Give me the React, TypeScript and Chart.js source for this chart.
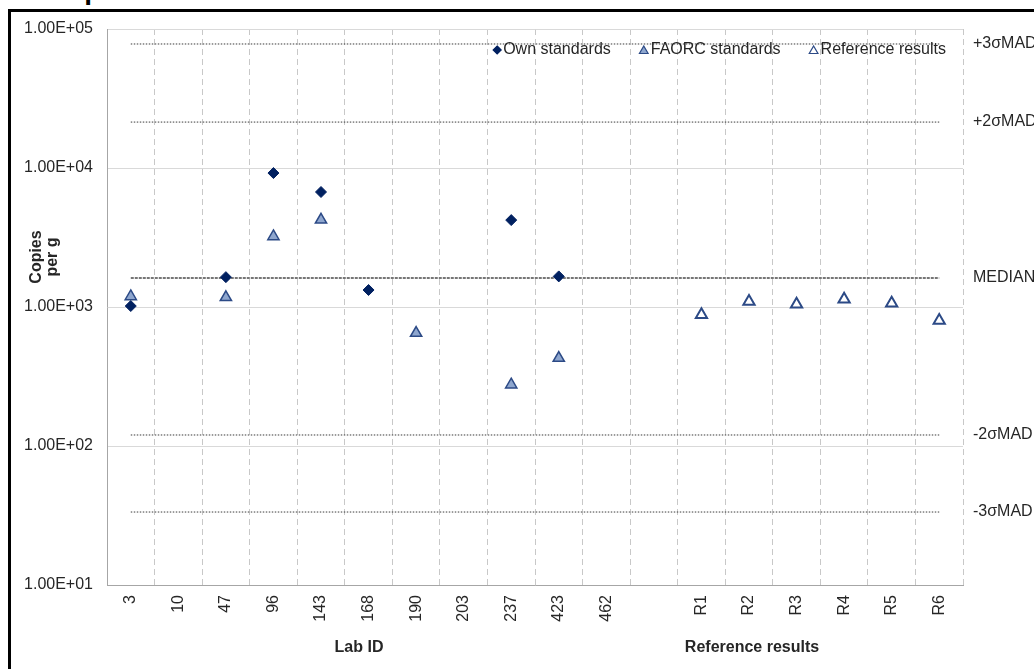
import React, { useEffect, useRef } from 'react';
import { Chart, registerables } from 'chart.js';

Chart.register(...registerables);

// ---------- data ----------
const labIds = ['3', '10', '47', '96', '143', '168', '190', '203', '237', '423', '462', '', 'R1', 'R2', 'R3', 'R4', 'R5', 'R6'];
const ownStandards = [1016, null, 1640, 9200, 6720, 1325, null, null, 4220, 1660, null, null, null, null, null, null, null, null];
const faorcStandards = [1190, null, 1175, 3220, 4240, null, 650, null, 276, 429, null, null, null, null, null, null, null, null];
const referenceResults = [null, null, null, null, null, null, null, null, null, null, null, null, 878, 1095, 1047, 1138, 1065, 800];
const limitNames = ['+3σMAD', '+2σMAD', 'MEDIAN', '-2σMAD', '-3σMAD'];
const limitValues = [78000, 21400, 1620, 120, 33.5];
const yTickValues = [10, 100, 1000, 10000, 100000];
const xAxisTitles = ['Lab ID', 'Reference results'];
const yAxisTitle = ['Copies', 'per g'];
const chartTitle = 'Sample';

const FONT = '"Liberation Sans", Arial, Helvetica, sans-serif';
const TEXT = '#262626';

function fmtExp(v: number): string {
  const e = Math.floor(Math.log10(v) + 1e-9);
  const m = v / Math.pow(10, e);
  return m.toFixed(2) + 'E' + (e >= 0 ? '+' : '-') + String(Math.abs(e)).padStart(2, '0');
}

function drawMarker(ctx: CanvasRenderingContext2D, style: string, cx: number, cy: number, r: number, fill: string, stroke: string, lw: number) {
  ctx.beginPath();
  if (style === 'rectRot') {
    ctx.moveTo(cx, cy - r);
    ctx.lineTo(cx + r, cy);
    ctx.lineTo(cx, cy + r);
    ctx.lineTo(cx - r, cy);
  } else {
    ctx.moveTo(cx, cy - r);
    ctx.lineTo(cx + r * Math.cos(Math.PI / 6), cy + r * 0.5);
    ctx.lineTo(cx - r * Math.cos(Math.PI / 6), cy + r * 0.5);
  }
  ctx.closePath();
  ctx.fillStyle = fill;
  ctx.fill();
  ctx.lineWidth = lw;
  ctx.strokeStyle = stroke;
  ctx.stroke();
}

const annotations = {
  id: 'annotations',
  afterDraw(chart: any) {
    const { ctx, chartArea, scales } = chart;
    const y = scales.y;
    ctx.save();
    // right-hand limit labels
    ctx.font = '16px ' + FONT;
    ctx.fillStyle = TEXT;
    ctx.textAlign = 'left';
    ctx.textBaseline = 'middle';
    limitNames.forEach((n, i) => {
      ctx.fillText(n, chartArea.right + 10, y.getPixelForValue(limitValues[i]));
    });

    // x axis titles
    ctx.font = 'bold 16px ' + FONT;
    ctx.textAlign = 'center';
    ctx.textBaseline = 'middle';
    ctx.fillText(xAxisTitles[0], 359, 648);
    ctx.fillText(xAxisTitles[1], 752, 648);

    // y axis title (two lines, rotated)
    ctx.textBaseline = 'alphabetic';
    yAxisTitle.forEach((t, i) => {
      ctx.save();
      ctx.translate(41 + i * 16, 257);
      ctx.rotate(-Math.PI / 2);
      ctx.fillText(t, 0, 0);
      ctx.restore();
    });

    // legend (inside plot, top right)
    const items = chart.data.datasets.filter((d: any) => d.legend);
    ctx.font = '16px ' + FONT;
    ctx.textAlign = 'left';
    ctx.textBaseline = 'middle';
    const ly = 50;
    let xr = chartArea.right - 17;
    for (let i = items.length - 1; i >= 0; i--) {
      const d = items[i];
      const w = ctx.measureText(d.label).width;
      const tx = xr - w;
      ctx.fillStyle = TEXT;
      ctx.fillText(d.label, tx, ly);
      const mr = d.pointStyle === 'rectRot' ? 4 : 5;
      const mx = tx - 2 - mr;
      drawMarker(ctx, d.pointStyle, mx, ly + (d.pointStyle === 'rectRot' ? 0 : 1), mr, d.pointBackgroundColor, d.pointBorderColor, 1.2);
      xr = mx - mr - 28;
    }
    ctx.restore();
  },
};

export default function App() {
  const ref = useRef<HTMLCanvasElement | null>(null);

  useEffect(() => {
    if (!ref.current) return;
    const limitDatasets = limitNames.map((n, i) => ({
      label: n,
      data: [
        { x: labIds[0], y: limitValues[i] },
        { x: labIds[labIds.length - 1], y: limitValues[i] },
      ],
      borderColor: n === 'MEDIAN' ? '#4a4a4a' : '#3a3a3a',
      borderWidth: n === 'MEDIAN' ? 1.5 : 1,
      borderDash: n === 'MEDIAN' ? [3, 1] : [1.5, 1.5],
      pointRadius: 0,
      showLine: true,
      fill: false,
    }));

    const chart = new Chart(ref.current, {
      type: 'line',
      data: {
        labels: labIds,
        datasets: [
          {
            label: 'Own standards',
            legend: true,
            data: ownStandards,
            showLine: false,
            pointStyle: 'rectRot',
            pointRadius: 5.5,
            pointBackgroundColor: '#002060',
            pointBorderColor: '#002060',
            pointBorderWidth: 1,
          } as any,
          {
            label: 'FAORC standards',
            legend: true,
            data: faorcStandards,
            showLine: false,
            pointStyle: 'triangle',
            pointRadius: 6.5,
            pointBackgroundColor: '#8EA6CE',
            pointBorderColor: '#2C4A86',
            pointBorderWidth: 1.5,
          } as any,
          {
            label: 'Reference results',
            legend: true,
            data: referenceResults,
            showLine: false,
            pointStyle: 'triangle',
            pointRadius: 6.5,
            pointBackgroundColor: '#ffffff',
            pointBorderColor: '#2C4A86',
            pointBorderWidth: 2,
          } as any,
          ...limitDatasets,
        ],
      },
      options: {
        responsive: false,
        devicePixelRatio: 1,
        animation: false,
        events: [],
        layout: { padding: { left: 0, top: 29, right: 71, bottom: 0 } },
        plugins: {
          legend: { display: false },
          tooltip: { enabled: false },
        },
        scales: {
          x: {
            type: 'category',
            offset: true,
            afterFit: (s: any) => { s.height = 84; },
            grid: { offset: true, color: '#C8C8C8', lineWidth: 1, drawTicks: false },
            border: { display: true, color: '#A6A6A6', width: 1, dash: [6, 4] },
            ticks: {
              autoSkip: false,
              maxRotation: 90,
              minRotation: 90,
              padding: 10,
              color: TEXT,
              font: { family: FONT, size: 16 },
            },
          },
          y: {
            type: 'logarithmic',
            min: 10,
            max: 100000,
            afterFit: (s: any) => { s.width = 107; },
            afterBuildTicks: (s: any) => { s.ticks = yTickValues.map((v) => ({ value: v, major: true })); },
            grid: { color: '#D9D9D9', lineWidth: 1, drawTicks: false },
            border: { display: true, color: '#A6A6A6', width: 1 },
            ticks: {
              padding: 14,
              color: TEXT,
              font: { family: FONT, size: 16 },
              callback: (v: any) => fmtExp(Number(v)),
            },
          },
        },
      } as any,
      plugins: [annotations],
    });
    return () => chart.destroy();
  }, []);

  return (
    <div style={{ position: 'fixed', left: 0, top: 0, width: 1034, height: 669, overflow: 'hidden', background: '#fff' }}>
      <div style={{ position: 'absolute', left: 8, top: 9, width: 1100, height: 800, border: '3px solid #000' }} />
      <div
        style={{
          position: 'absolute',
          left: 25,
          top: -24,
          font: 'bold 28px ' + FONT,
          lineHeight: '28px',
          whiteSpace: 'nowrap',
          color: '#000',
        }}
      >
        {chartTitle}
      </div>
      <canvas ref={ref} width={1034} height={669} style={{ position: 'absolute', left: 0, top: 0 }} />
    </div>
  );
}
